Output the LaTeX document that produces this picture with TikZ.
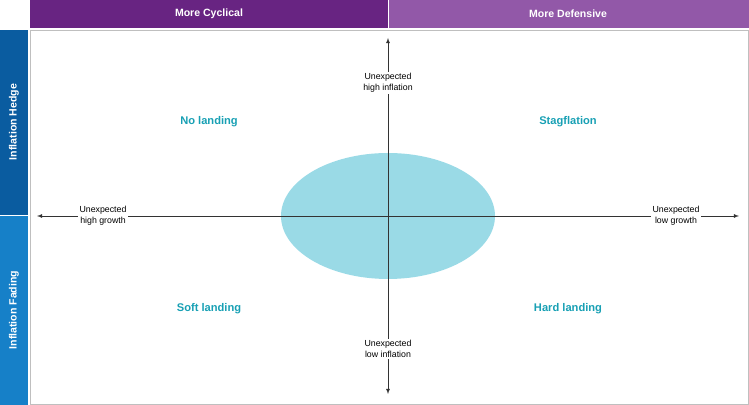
\documentclass[tikz,border=0pt]{standalone}
\usepackage{fontspec}
\setmainfont{Liberation Sans}
\usetikzlibrary{positioning}
\definecolor{purpledark}{RGB}{104, 36, 130}
\definecolor{purplelight}{RGB}{146, 88, 168}
\definecolor{bluedark}{RGB}{10, 92, 160}
\definecolor{bluelight}{RGB}{22, 128, 200}
\definecolor{quadteal}{RGB}{24, 160, 180}
\definecolor{oval}{RGB}{154, 218, 230}
\tikzset{
    header/.style={text=white, font=\bfseries\fontsize{9}{10}\selectfont},
    quadrant/.style={text=quadteal, font=\bfseries\fontsize{9.5}{11}\selectfont},
    axislabel/.style={fill=white, align=center, inner sep=1.5pt, font=\fontsize{7.5}{9}\selectfont},
    axis/.style={draw=black!80, line width=0.5pt, -latex}
}
\begin{document}
\begin{tikzpicture}[x=0.03cm, y=-0.03cm]
    \useasboundingbox (0,0) rectangle (749,405);
    % frame and side bars
    \draw[black!25] (30,30) rectangle (748,404);
    \fill[purpledark] (30,0) rectangle (388,28);
    \fill[purplelight] (389,0) rectangle (749,28);
    \fill[bluedark] (0,30) rectangle (28,215);
    \fill[bluelight] (0,216) rectangle (28,405);
    \node[header] (cyc) at (209,14) {More Cyclical};
    \node[header] (def) at (568,14) {More Defensive};
    \node[header, rotate=90] (hedge) at (14,122) {Inflation Hedge};
    \node[header, rotate=90] (fade) at (14,310) {Inflation Fading};
    % centre oval
    \fill[oval] (388,216) ellipse [x radius=107, y radius=63];
    % axes
    \coordinate (c) at (388,216);
    \coordinate (top) at (388,38);
    \coordinate (bot) at (388,394);
    \coordinate (lft) at (37,216);
    \coordinate (rgt) at (739,216);
    \draw[axis] (c) -- (top);
    \draw[axis] (c) -- (bot);
    \draw[axis] (c) -- (lft);
    \draw[axis] (c) -- (rgt);
    \node[axislabel] (hinf) at (388,83) {Unexpected\\high inflation};
    \node[axislabel] (linf) at (388,349) {Unexpected\\low inflation};
    \node[axislabel] (hgro) at (103,216) {Unexpected\\high growth};
    \node[axislabel] (lgro) at (676,216) {Unexpected\\low growth};
    % quadrants
    \node[quadrant] (nol) at (209,122) {No landing};
    \node[quadrant] (stag) at (568,122) {Stagflation};
    \node[quadrant] (soft) at (209,309) {Soft landing};
    \node[quadrant] (hard) at (568,309) {Hard landing};
\end{tikzpicture}
\end{document}
